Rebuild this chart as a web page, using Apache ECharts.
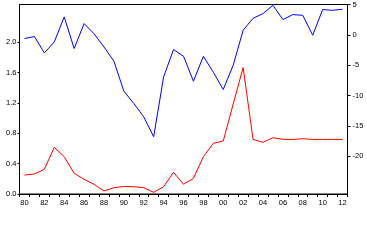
<!DOCTYPE html>
<html>
<head>
<meta charset="utf-8">
<script src="https://cdn.jsdelivr.net/npm/echarts@6/dist/echarts.min.js"></script>
<style>html,body{margin:0;padding:0;background:#fff;}#c{width:367px;height:247px;}</style>
</head>
<body>
<div id="c"></div>
<script>
var years = ['1980','1981','1982','1983','1984','1985','1986','1987','1988','1989','1990','1991','1992','1993','1994','1995','1996','1997','1998','1999','2000','2001','2002','2003','2004','2005','2006','2007','2008','2009','2010','2011','2012'];
var redSeries = [0.25,0.264,0.326,0.616,0.492,0.273,0.194,0.128,0.04,0.083,0.099,0.096,0.083,0.022,0.096,0.286,0.128,0.207,0.492,0.669,0.699,1.187,1.668,0.721,0.682,0.742,0.721,0.72,0.729,0.72,0.72,0.72,0.72];
var blueSeries = [-0.61,-0.28,-2.97,-1.16,2.95,-2.25,1.86,0.18,-1.99,-4.34,-9.27,-11.29,-13.49,-16.78,-6.92,-2.41,-3.52,-7.63,-3.52,-6.15,-8.99,-5.0,0.76,2.73,3.5,4.87,2.52,3.34,3.22,-0.06,4.16,4.05,4.21];
var leftTicks = [0, 0.4, 0.8, 1.2, 1.6, 2.0];
var rightTicks = [-20, -15, -10, -5, 0, 5];

var font = {fontFamily: 'Liberation Sans', fontSize: 7.5, color: '#000'};
var chart = echarts.init(document.getElementById('c'), null, {renderer: 'canvas'});
chart.setOption({
  animation: false,
  backgroundColor: '#fff',
  grid: {left: 19.5, right: 19.5, top: 4.5, bottom: 53, show: true, borderColor: '#000', borderWidth: 1, containLabel: false},
  xAxis: {
    type: 'category', data: years, boundaryGap: true,
    axisLine: {lineStyle: {color: '#000', width: 1}},
    axisTick: {show: true, length: 3, interval: 0, lineStyle: {color: '#000'}},
    axisLabel: Object.assign({interval: 1, margin: 5, formatter: function (v) { return v.slice(2); }}, font),
    splitLine: {show: false}
  },
  yAxis: [{
    type: 'value', position: 'left', min: 0, max: 2.5,
    axisLine: {show: true, lineStyle: {color: '#000'}},
    axisTick: {show: true, length: 2, customValues: leftTicks, lineStyle: {color: '#000'}},
    axisLabel: Object.assign({margin: 3, customValues: leftTicks, formatter: function (v) { return v.toFixed(1); }}, font),
    splitLine: {show: false}
  }, {
    type: 'value', position: 'right', min: -26.2, max: 5,
    axisLine: {show: true, lineStyle: {color: '#000'}},
    axisTick: {show: true, length: 3, customValues: rightTicks, lineStyle: {color: '#000'}},
    axisLabel: Object.assign({margin: 5, customValues: rightTicks}, font),
    splitLine: {show: false}
  }],
  series: [{
    type: 'line', name: 'red', yAxisIndex: 0, data: redSeries, showSymbol: false, symbol: 'none',
    lineStyle: {color: '#ff0000', width: 1}, itemStyle: {color: '#ff0000'}
  }, {
    type: 'line', name: 'blue', yAxisIndex: 1, data: blueSeries, showSymbol: false, symbol: 'none',
    lineStyle: {color: '#0000ff', width: 1}, itemStyle: {color: '#0000ff'}
  }]
});
</script>
</body>
</html>
